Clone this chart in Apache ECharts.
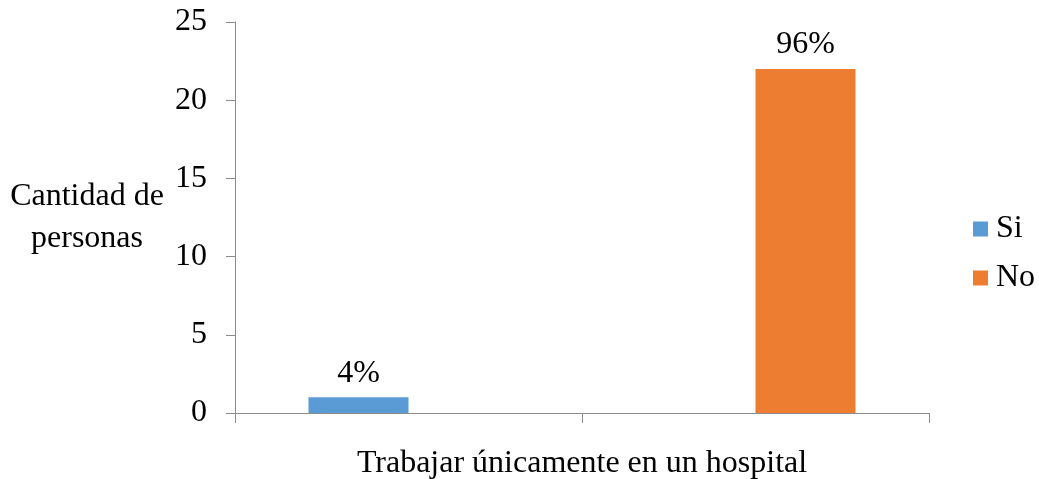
<!DOCTYPE html>
<html>
<head>
<meta charset="utf-8">
<script src="https://cdn.jsdelivr.net/npm/echarts@6/dist/echarts.min.js"></script>
<style>
  html, body { margin: 0; padding: 0; background: #fff; }
  #chart { width: 1039px; height: 479px; }
</style>
</head>
<body>
<div id="chart"></div>
<script>
// Two groups on the category axis; each series carries its count in one group.
const categories = ['', ''];
const siValues = [1, 0];
const noValues = [0, 22];
const siLabels = ['4%', ''];
const noLabels = ['', '96%'];
const yTicks = [0, 5, 10, 15, 20, 25];

const FONT = '"Liberation Serif", "Times New Roman", serif';
const FS = 32;
const AXIS_COLOR = '#8c8c8c';

const chart = echarts.init(document.getElementById('chart'));

function makeLabel(texts) {
  return {
    show: true,
    position: 'top',
    distance: 8,
    fontFamily: FONT,
    fontSize: FS,
    color: '#000',
    formatter: p => texts[p.dataIndex]
  };
}

chart.setOption({
  animation: false,
  textStyle: { fontFamily: FONT },
  grid: { left: 235, right: 110, top: 22, bottom: 66, containLabel: false, outerBoundsMode: 'none' },
  legend: {
    orient: 'vertical',
    left: 968,
    top: 208,
    itemWidth: 15,
    itemHeight: 15,
    itemGap: 17,
    icon: 'rect',
    textStyle: { fontFamily: FONT, fontSize: FS, color: '#000', padding: [0, 0, 0, 3] },
    data: ['Si', 'No']
  },
  xAxis: {
    type: 'category',
    data: categories,
    boundaryGap: true,
    name: 'Trabajar únicamente en un hospital',
    nameLocation: 'middle',
    nameGap: 35,
    nameTextStyle: { fontFamily: FONT, fontSize: FS, color: '#000' },
    axisLine: { lineStyle: { color: AXIS_COLOR, width: 1 } },
    axisTick: { show: true, length: 10, alignWithLabel: false, lineStyle: { color: AXIS_COLOR } },
    axisLabel: { show: false }
  },
  yAxis: {
    type: 'value',
    min: yTicks[0],
    max: yTicks[yTicks.length - 1],
    interval: yTicks[1] - yTicks[0],
    name: 'Cantidad de\npersonas',
    nameLocation: 'middle',
    nameRotate: 0,
    nameGap: 148,
    nameTextStyle: { fontFamily: FONT, fontSize: FS, color: '#000', lineHeight: 42, align: 'center', padding: [20, 0, 0, 0] },
    axisLine: { show: true, lineStyle: { color: AXIS_COLOR, width: 1 } },
    axisTick: { show: true, length: 9, lineStyle: { color: AXIS_COLOR } },
    axisLabel: { margin: 28, fontFamily: FONT, fontSize: FS, color: '#000' },
    splitLine: { show: false }
  },
  series: [
    {
      name: 'Si',
      type: 'bar',
      data: siValues,
      barWidth: 100,
      barGap: '0%',
      itemStyle: { color: '#5B9BD5' },
      label: makeLabel(siLabels)
    },
    {
      name: 'No',
      type: 'bar',
      data: noValues,
      barWidth: 100,
      barGap: '0%',
      itemStyle: { color: '#ED7D31' },
      label: makeLabel(noLabels)
    }
  ]
});
</script>
</body>
</html>
